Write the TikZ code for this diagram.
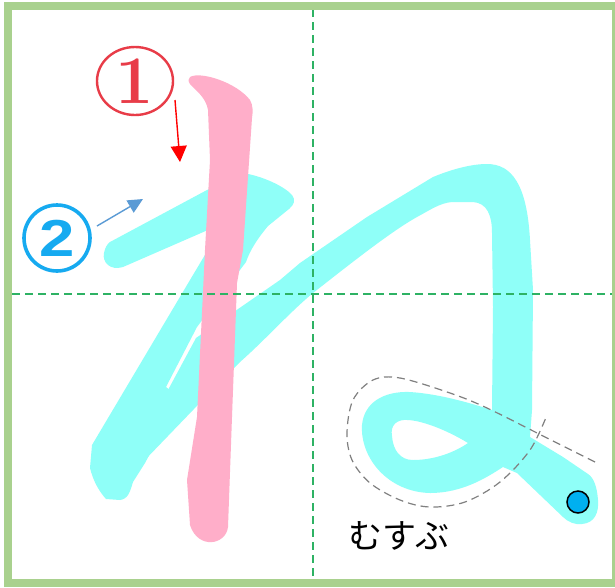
\documentclass[tikz,border=0pt]{standalone}
\usepackage{fontspec}
\newfontfamily\jpfont{Noto Sans CJK JP}
\newfontfamily\sansnum{Liberation Sans}
\usetikzlibrary{arrows.meta,shapes.geometric}
\definecolor{framegreen}{RGB}{169,209,142}
\definecolor{guidegreen}{RGB}{46,178,100}
\definecolor{pinkstroke}{RGB}{255,174,201}
\definecolor{cyanstroke}{RGB}{143,255,248}
\definecolor{numred}{RGB}{232,60,72}
\definecolor{numblue}{RGB}{22,170,240}
\definecolor{arrblue}{RGB}{91,155,213}
\definecolor{dotblue}{RGB}{0,176,240}
\begin{document}
\begin{tikzpicture}[x=1pt,y=-1pt,
  guide/.style={guidegreen, line width=1.6pt, dash pattern=on 8pt off 5pt},
  hint/.style={gray, line width=1.2pt, dash pattern=on 8pt off 5pt},
  numarrow/.style={line width=1.4pt}]
\useasboundingbox (0,0) rectangle (615,587);
\clip (0,0) rectangle (615,587);
\fill[white] (0,0) rectangle (615,587);

% stroke 2 (first part): rising stroke, turn, diagonal
\fill[cyanstroke]
 (110,242) -- (207,190) -- (243,173)
 .. controls (262,176) and (284,186) .. (292,195)
 .. controls (296,200) and (294,205) .. (289,209)
 -- (268,226)
 .. controls (258,238) and (250,250) .. (246,262)
 -- (197,327) -- (166,387) -- (180,398) -- (145,463) -- (133,482)
 .. controls (130,492) and (128,499) .. (120,500)
 -- (106,499)
 .. controls (98,490) and (93,480) .. (90,468)
 -- (92,445) -- (190,280) -- (224,223) -- (123,267)
 .. controls (110,271) and (102,262) .. (104,253)
 .. controls (105,248) and (107,244) .. (110,242) -- cycle;

% stroke 2 (second part): return, arch, vertical, loop, tail
\fill[cyanstroke, even odd rule]
 (142,463) -- (193,410) -- (240,362)
 .. controls (265,340) and (290,312) .. (313,293)
 .. controls (345,268) and (390,232) .. (417,217)
 .. controls (430,210) and (440,203) .. (452,202)
 -- (473,202)
 .. controls (487,203) and (492,215) .. (492,233)
 -- (493,307) -- (492,410)
 .. controls (470,403) and (440,394) .. (410,392)
 .. controls (383,391) and (364,403) .. (362,425)
 .. controls (360,458) and (388,492) .. (430,493)
 .. controls (462,493) and (486,478) .. (503,467)
 -- (517,473) -- (563,517)
 .. controls (568,522) and (575,525) .. (582,524)
 .. controls (595,523) and (599,512) .. (598,500)
 .. controls (597,487) and (594,478) .. (588,474)
 -- (563,457) -- (530,437) -- (532,410) -- (533,290) -- (530,240)
 .. controls (527,185) and (512,164) .. (487,164)
 .. controls (470,164) and (450,170) .. (433,177)
 -- (367,217) -- (300,263) -- (280,280) -- (215,325) -- (196,338) -- (168,390) -- cycle
 (392,436) .. controls (390,425) and (397,419) .. (408,420)
 .. controls (425,421) and (450,432) .. (468,443)
 .. controls (455,452) and (435,460) .. (413,460)
 .. controls (400,460) and (393,450) .. (392,436) -- cycle;

% stroke 1
\fill[pinkstroke]
 (190,77) .. controls (200,71) and (236,82) .. (250,100)
 .. controls (253,105) and (253,112) .. (252,118)
 -- (243,250) -- (237,283) -- (232,417) -- (228,527)
 .. controls (226,545) and (198,550) .. (190,525)
 -- (187,480) -- (197,417) -- (205,250) -- (210,160) -- (208,110)
 .. controls (206,97) and (195,90) .. (190,84)
 .. controls (188,81) and (188,79) .. (190,77) -- cycle;

% guide lines
\draw[guide] (313,9) -- (313,580);
\draw[guide] (12,294) -- (612,294);

% knot hint
\draw[hint] plot[smooth, tension=0.55] coordinates {(595,462) (547,438) (487,408) (450,393) (400,378) (373,380) (353,400) (347,433) (352,460) (370,483) (400,500) (430,507) (465,502) (500,482) (530,450) (547,415)};

% end dot
\node[circle, fill=dotblue, draw=black, line width=1.5pt, minimum size=22pt, inner sep=0pt] (enddot) at (578,502) {};

% stroke numbers
\node[ellipse, draw=numred, line width=2.4pt, minimum width=76pt, minimum height=68pt, inner sep=0pt, text=numred] (num1) at (135,81) {\fontsize{68pt}{68pt}\selectfont\bfseries 1};
\node[circle, draw=numblue, line width=3.6pt, minimum size=66pt, inner sep=0pt, text=numblue] (num2) at (57,238) {\sansnum\fontsize{52pt}{52pt}\selectfont\bfseries\scalebox{1.22}[1]{2}};

\coordinate (a1s) at (175,100);
\coordinate (a1e) at (180,162);
\coordinate (a2s) at (97,226);
\coordinate (a2e) at (143,199);
\draw[numarrow, red, -{Triangle[width=16pt,length=16pt]}] (a1s) -- (a1e);
\draw[numarrow, arrblue, -{Triangle[width=14pt,length=15pt]}] (a2s) -- (a2e);

% label
\node (musubu) at (399,536) {\jpfont\fontsize{34pt}{34pt}\selectfont むすぶ};

% frame
\draw[framegreen, line width=8pt] (8,5.5) rectangle (616,583);
\end{tikzpicture}
\end{document}
